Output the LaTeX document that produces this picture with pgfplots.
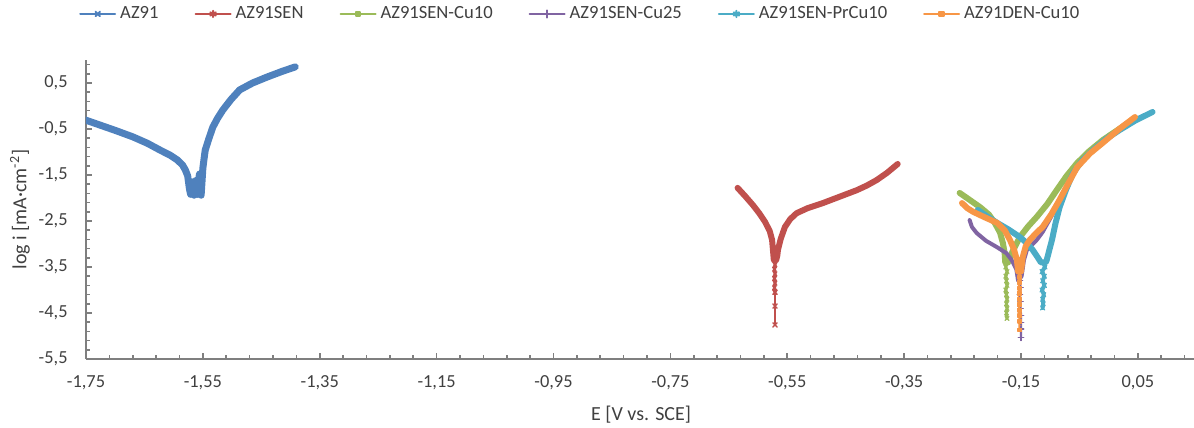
\documentclass[border=0pt]{standalone}
\usepackage{fontspec}
\setmainfont{Carlito}
\usepackage{pgfplots}
\pgfplotsset{compat=1.18}

\definecolor{cAZ}{HTML}{4F81BD}
\definecolor{cSEN}{HTML}{C0504D}
\definecolor{cCu10}{HTML}{9BBB59}
\definecolor{cCu25}{HTML}{8064A2}
\definecolor{cPr}{HTML}{4BACC6}
\definecolor{cDEN}{HTML}{F79646}
\definecolor{axgray}{HTML}{7F7F7F}
\definecolor{txtgray}{HTML}{404040}

\begin{document}
\begin{tikzpicture}
\begin{axis}[
    scale only axis,
    width=554pt, height=149.5pt,
    xmin=-1.75, xmax=0.146,
    ymin=-5.5, ymax=1.0,
    axis lines=left,
    axis line style={-, line width=1pt, color=axgray},
    tick align=inside,
    tick style={axgray, line width=0.8pt},
    major tick length=2.8pt, minor tick length=2pt,
    xtick={-1.75,-1.55,-1.35,-1.15,-0.95,-0.75,-0.55,-0.35,-0.15,0.05},
    xticklabels={{-1,75},{-1,55},{-1,35},{-1,15},{-0,95},{-0,75},{-0,55},{-0,35},{-0,15},{0,05}},
    minor xtick={-1.71,-1.67,...,0.14},
    ytick={-5.5,-4.5,-3.5,-2.5,-1.5,-0.5,0.5},
    yticklabels={{-5,5},{-4,5},{-3,5},{-2,5},{-1,5},{-0,5},{0,5}},
    minor ytick={-5.3,-5.1,...,1.0},
    ticklabel style={font=\fontsize{9.2}{11}\selectfont, text=txtgray},
    xticklabel style={anchor=center, yshift=-12pt},
    yticklabel style={anchor=east, inner sep=0pt, xshift=-9pt},
    xlabel={E [V vs. SCE]},
    xlabel style={at={(axis description cs:0.501,-0.187)}, anchor=center,
        font=\fontsize{10}{12}\selectfont, text=txtgray},
    ylabel={log i [mA·cm\textsuperscript{-2}]},
    ylabel style={at={(axis description cs:-0.0596,0.5)}, anchor=center,
        font=\fontsize{10}{12}\selectfont, text=txtgray},
    legend columns=6,
    legend style={at={(axis description cs:0.447,1.154)}, anchor=center,
        draw=none, fill=none, font=\fontsize{9.3}{11}\selectfont, text=txtgray,
        /tikz/every even column/.append style={column sep=16pt}},
    legend cell align=left,
    legend image code/.code={\draw[mark repeat=2,mark phase=2,#1]
        plot coordinates {(0pt,0pt) (8.75pt,0pt) (17.5pt,0pt)};},
    every axis plot/.append style={line join=round, line cap=round},
    tail/.style={line width=1.6pt, mark=x, mark size=1.4pt, mark options={solid, line width=0.6pt}, forget plot},
]
\coordinate (sw) at (rel axis cs:0,0);
\coordinate (ne) at (rel axis cs:1,1);

% AZ91
\addplot[cAZ, line width=3.5pt, forget plot] coordinates {
    (-1.752,-0.30) (-1.70,-0.53) (-1.67,-0.67) (-1.645,-0.81) (-1.623,-0.96)
    (-1.606,-1.07) (-1.594,-1.17) (-1.585,-1.28) (-1.580,-1.39) (-1.576,-1.52)
    (-1.573,-1.80) (-1.571,-1.92) (-1.568,-1.65) (-1.565,-1.94) (-1.562,-1.62)
    (-1.559,-1.92) (-1.556,-1.48) (-1.553,-1.94) (-1.550,-1.35) (-1.548,-1.15)
    (-1.546,-0.96) (-1.540,-0.72) (-1.533,-0.46) (-1.525,-0.27) (-1.516,-0.09)
    (-1.502,0.14) (-1.487,0.35) (-1.465,0.50) (-1.440,0.63) (-1.415,0.75)
    (-1.392,0.85)
};
% AZ91SEN
\addplot[cSEN, line width=3pt, forget plot] coordinates {
    (-0.635,-1.78) (-0.622,-1.96) (-0.609,-2.15) (-0.598,-2.33) (-0.588,-2.52)
    (-0.580,-2.72) (-0.576,-2.91) (-0.574,-3.20) (-0.573,-3.35) (-0.569,-3.35)
    (-0.567,-3.25) (-0.566,-3.13) (-0.561,-2.88) (-0.554,-2.63) (-0.545,-2.46)
    (-0.534,-2.33) (-0.515,-2.22) (-0.489,-2.11) (-0.460,-1.97) (-0.431,-1.83)
    (-0.414,-1.73) (-0.397,-1.61) (-0.379,-1.45) (-0.361,-1.26)
};
\addplot[cSEN, tail] coordinates {
    (-0.572,-3.35) (-0.571,-3.45) (-0.572,-3.55) (-0.571,-3.65) (-0.572,-3.75)
    (-0.571,-3.85) (-0.572,-3.95) (-0.571,-4.05)
};
\addplot[cSEN, line width=0.7pt, mark=x, mark size=1.5pt, forget plot] coordinates {
    (-0.571,-4.05) (-0.571,-4.35) (-0.571,-4.76)
};
% AZ91SEN-Cu10
\addplot[cCu10, line width=3pt, forget plot] coordinates {
    (-0.255,-1.89) (-0.238,-2.04) (-0.220,-2.20) (-0.205,-2.36) (-0.195,-2.54)
    (-0.186,-2.75) (-0.181,-2.98) (-0.178,-3.20) (-0.177,-3.40) (-0.172,-3.40)
    (-0.169,-3.28) (-0.160,-3.05) (-0.152,-2.85) (-0.138,-2.62) (-0.123,-2.41)
    (-0.105,-2.13) (-0.089,-1.83) (-0.072,-1.52) (-0.054,-1.24) (-0.033,-0.98)
    (-0.010,-0.74) (0.012,-0.55) (0.036,-0.35) (0.044,-0.27)
};
\addplot[cCu10, tail] coordinates {
    (-0.175,-3.40) (-0.176,-3.50) (-0.174,-3.60) (-0.176,-3.70) (-0.175,-3.80)
    (-0.174,-3.90) (-0.176,-4.00) (-0.175,-4.10) (-0.174,-4.20) (-0.175,-4.30)
    (-0.174,-4.40) (-0.175,-4.50) (-0.174,-4.62)
};
% AZ91SEN-Cu25
\addplot[cCu25, line width=2pt, forget plot] coordinates {
    (-0.238,-2.48) (-0.234,-2.63) (-0.226,-2.76) (-0.210,-2.93) (-0.191,-3.07)
    (-0.175,-3.20) (-0.166,-3.35) (-0.158,-3.55) (-0.155,-3.80) (-0.149,-3.70)
    (-0.145,-3.35) (-0.140,-3.13) (-0.123,-2.91) (-0.113,-2.74) (-0.106,-2.58)
    (-0.095,-2.33)
};
\addplot[cCu25, line width=1.2pt, mark=+, mark size=1.4pt, mark options={solid, line width=0.6pt}, forget plot] coordinates {
    (-0.152,-3.80) (-0.151,-3.95) (-0.152,-4.10) (-0.151,-4.25) (-0.151,-4.40)
    (-0.150,-4.55) (-0.150,-4.70) (-0.150,-4.85) (-0.150,-5.04)
};
% AZ91SEN-PrCu10
\addplot[cPr, line width=3pt, forget plot] coordinates {
    (-0.224,-2.26) (-0.208,-2.40) (-0.191,-2.54) (-0.172,-2.68) (-0.152,-2.85)
    (-0.140,-2.98) (-0.130,-3.13) (-0.122,-3.28) (-0.116,-3.40) (-0.108,-3.40)
    (-0.106,-3.35) (-0.102,-3.15) (-0.097,-2.91) (-0.091,-2.55) (-0.084,-2.20)
    (-0.073,-1.82) (-0.061,-1.46) (-0.045,-1.18) (-0.027,-0.96) (-0.005,-0.72)
    (0.019,-0.52) (0.045,-0.32) (0.075,-0.13)
};
\addplot[cPr, tail, line width=2pt] coordinates {
    (-0.112,-3.40) (-0.109,-3.50) (-0.114,-3.60) (-0.110,-3.70) (-0.113,-3.80)
    (-0.110,-3.90) (-0.114,-4.00) (-0.111,-4.10) (-0.113,-4.20) (-0.112,-4.30)
    (-0.113,-4.39)
};
% AZ91DEN-Cu10
\addplot[cDEN, line width=3pt, forget plot] coordinates {
    (-0.251,-2.11) (-0.242,-2.22) (-0.232,-2.30) (-0.212,-2.42) (-0.191,-2.54)
    (-0.178,-2.70) (-0.169,-2.91) (-0.162,-3.12) (-0.157,-3.35) (-0.155,-3.60)
    (-0.150,-3.60) (-0.147,-3.28) (-0.142,-3.05) (-0.135,-2.91) (-0.123,-2.75)
    (-0.113,-2.63) (-0.098,-2.35) (-0.084,-2.04) (-0.069,-1.68) (-0.054,-1.33)
    (-0.032,-1.03) (-0.010,-0.80) (0.018,-0.50) (0.045,-0.24)
};
\addplot[cDEN, tail, mark=square*, mark size=0.9pt] coordinates {
    (-0.153,-3.60) (-0.152,-3.72) (-0.153,-3.84) (-0.152,-3.96) (-0.153,-4.08)
    (-0.152,-4.20) (-0.153,-4.32) (-0.152,-4.44) (-0.152,-4.56) (-0.152,-4.68)
    (-0.152,-4.87)
};

\addlegendimage{cAZ, line width=1pt, mark=x, mark size=1.6pt, mark options={solid}}
\addlegendentry{AZ91}
\addlegendimage{cSEN, line width=1pt, mark=asterisk, mark size=1.6pt, mark options={solid}}
\addlegendentry{AZ91SEN}
\addlegendimage{cCu10, line width=1pt, mark=square*, mark size=1.2pt, mark options={solid}}
\addlegendentry{AZ91SEN-Cu10}
\addlegendimage{cCu25, line width=1pt, mark=+, mark size=1.8pt, mark options={solid}}
\addlegendentry{AZ91SEN-Cu25}
\addlegendimage{cPr, line width=1pt, mark=asterisk, mark size=1.6pt, mark options={solid}}
\addlegendentry{AZ91SEN-PrCu10}
\addlegendimage{cDEN, line width=1pt, mark=square*, mark size=1.2pt, mark options={solid}}
\addlegendentry{AZ91DEN-Cu10}
\end{axis}
\pgfresetboundingbox
\path[use as bounding box] ([shift={(-43pt,-34.5pt)}]sw) rectangle ([shift={(0pt,30pt)}]ne);
\end{tikzpicture}
\end{document}
